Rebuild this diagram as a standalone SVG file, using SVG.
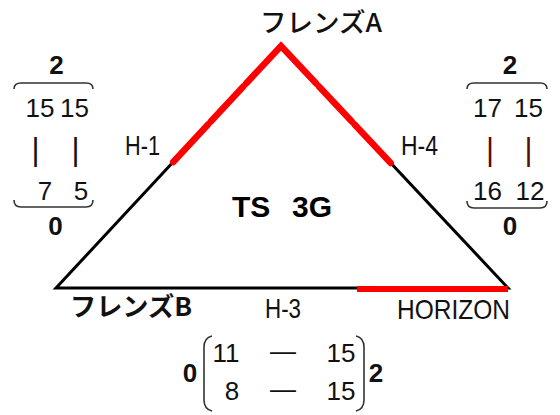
<svg xmlns="http://www.w3.org/2000/svg" width="560" height="415" viewBox="0 0 560 415">
<style>
.jp{font-family:"Noto Sans CJK JP","Noto Sans",sans-serif;font-size:26px;fill:#111}
.lbl{font-family:"Liberation Sans","Noto Sans",sans-serif;font-size:28px;fill:#111}
.num{font-family:"Liberation Sans",sans-serif;font-size:26px;fill:#111;text-anchor:middle}
.bnum{font-family:"Liberation Sans",sans-serif;font-size:26px;font-weight:bold;fill:#111;text-anchor:middle}
.bar{font-family:"Liberation Sans",sans-serif;font-size:31px;text-anchor:middle}
.brace{fill:none;stroke:#333;stroke-width:1.6}
.edge{fill:none;stroke:#000;stroke-width:3}
.red{fill:none;stroke:#f00;stroke-width:6.5;stroke-linecap:round}
</style>
<rect width="560" height="415" fill="#fff"/>
<g id="connectors">
  <path class="edge" d="M56 288 L281 46 L508 288 Z" stroke-linejoin="miter"/>
  <line class="red" x1="173.2" y1="162" x2="208.04" y2="124.46"/>
  <line class="red" x1="210.76" y1="121.54" x2="243.34" y2="86.46"/>
  <polyline class="red" points="246.06,83.54 281,46 316.23,83.54" stroke-linejoin="miter"/>
  <line class="red" x1="318.97" y1="86.46" x2="351.83" y2="121.54"/>
  <line class="red" x1="354.57" y1="124.46" x2="390.7" y2="163"/>
  <line x1="357" y1="289" x2="508" y2="289" stroke="#f00" stroke-width="6"/>
  <text class="lbl" x="125" y="155" textLength="35" lengthAdjust="spacingAndGlyphs">H-1</text>
  <text class="lbl" x="401" y="155" textLength="37" lengthAdjust="spacingAndGlyphs">H-4</text>
  <text class="lbl" x="265" y="318" textLength="36" lengthAdjust="spacingAndGlyphs">H-3</text>
</g>
<g id="friendsA">
  <text class="jp" x="260" y="32" font-weight="500" textLength="122" lengthAdjust="spacingAndGlyphs">フレンズA</text>
</g>
<g id="friendsB">
  <text class="jp" x="70" y="316" font-weight="bold" textLength="122" lengthAdjust="spacingAndGlyphs">フレンズB</text>
</g>
<g id="horizon">
  <text class="lbl" x="397" y="319" font-size="30" textLength="113" lengthAdjust="spacingAndGlyphs">HORIZON</text>
</g>
<g id="ts3g">
  <text x="232" y="217" font-family="Liberation Sans, sans-serif" font-size="30" font-weight="bold" fill="#000">TS</text>
  <text x="292" y="217" font-family="Liberation Sans, sans-serif" font-size="30" font-weight="bold" fill="#000">3G</text>
</g>
<g id="matrix-left">
  <text class="bnum" x="56.5" y="74">2</text>
  <path class="brace" d="M14 89 Q14 83 21 83 L86 83 Q93 83 93 89"/>
  <text class="num" x="40" y="117">15</text>
  <text class="num" x="74.5" y="117">15</text>
  <text class="bar" x="35.5" y="160" fill="#111">|</text>
  <text class="bar" x="75.5" y="160" fill="#111">|</text>
  <text class="num" x="45" y="200">7</text>
  <text class="num" x="81" y="200">5</text>
  <path class="brace" d="M14 200 Q14 207 21 207 L86 207 Q93 207 93 200"/>
  <text class="bnum" x="55.5" y="235">0</text>
</g>
<g id="matrix-right">
  <text class="bnum" x="510" y="74">2</text>
  <path class="brace" d="M467 89 Q467 83 474 83 L540 83 Q547 83 547 89"/>
  <text class="num" x="487.5" y="117">17</text>
  <text class="num" x="528.5" y="117">15</text>
  <text class="bar" x="490" y="160" fill="#5c0a0a">|</text>
  <text class="bar" x="528.5" y="160" fill="#5c0a0a">|</text>
  <text class="num" x="487.5" y="200">16</text>
  <text class="num" x="530" y="200">12</text>
  <path class="brace" d="M467 201 Q467 208 474 208 L540 208 Q547 208 547 201"/>
  <text class="bnum" x="510" y="235">0</text>
</g>
<g id="matrix-bottom">
  <text class="bnum" x="190" y="382">0</text>
  <path class="brace" d="M212 336 Q204 338 204 347 L204 400 Q204 409 212 411"/>
  <text class="num" x="226" y="362">11</text>
  <text class="num" x="283" y="360">—</text>
  <text class="num" x="341" y="362">15</text>
  <text class="num" x="232" y="400">8</text>
  <text class="num" x="283" y="398">—</text>
  <text class="num" x="341" y="400">15</text>
  <path class="brace" d="M356 336 Q364 338 364 347 L364 400 Q364 409 356 411"/>
  <text class="bnum" x="376" y="382">2</text>
</g>
</svg>
